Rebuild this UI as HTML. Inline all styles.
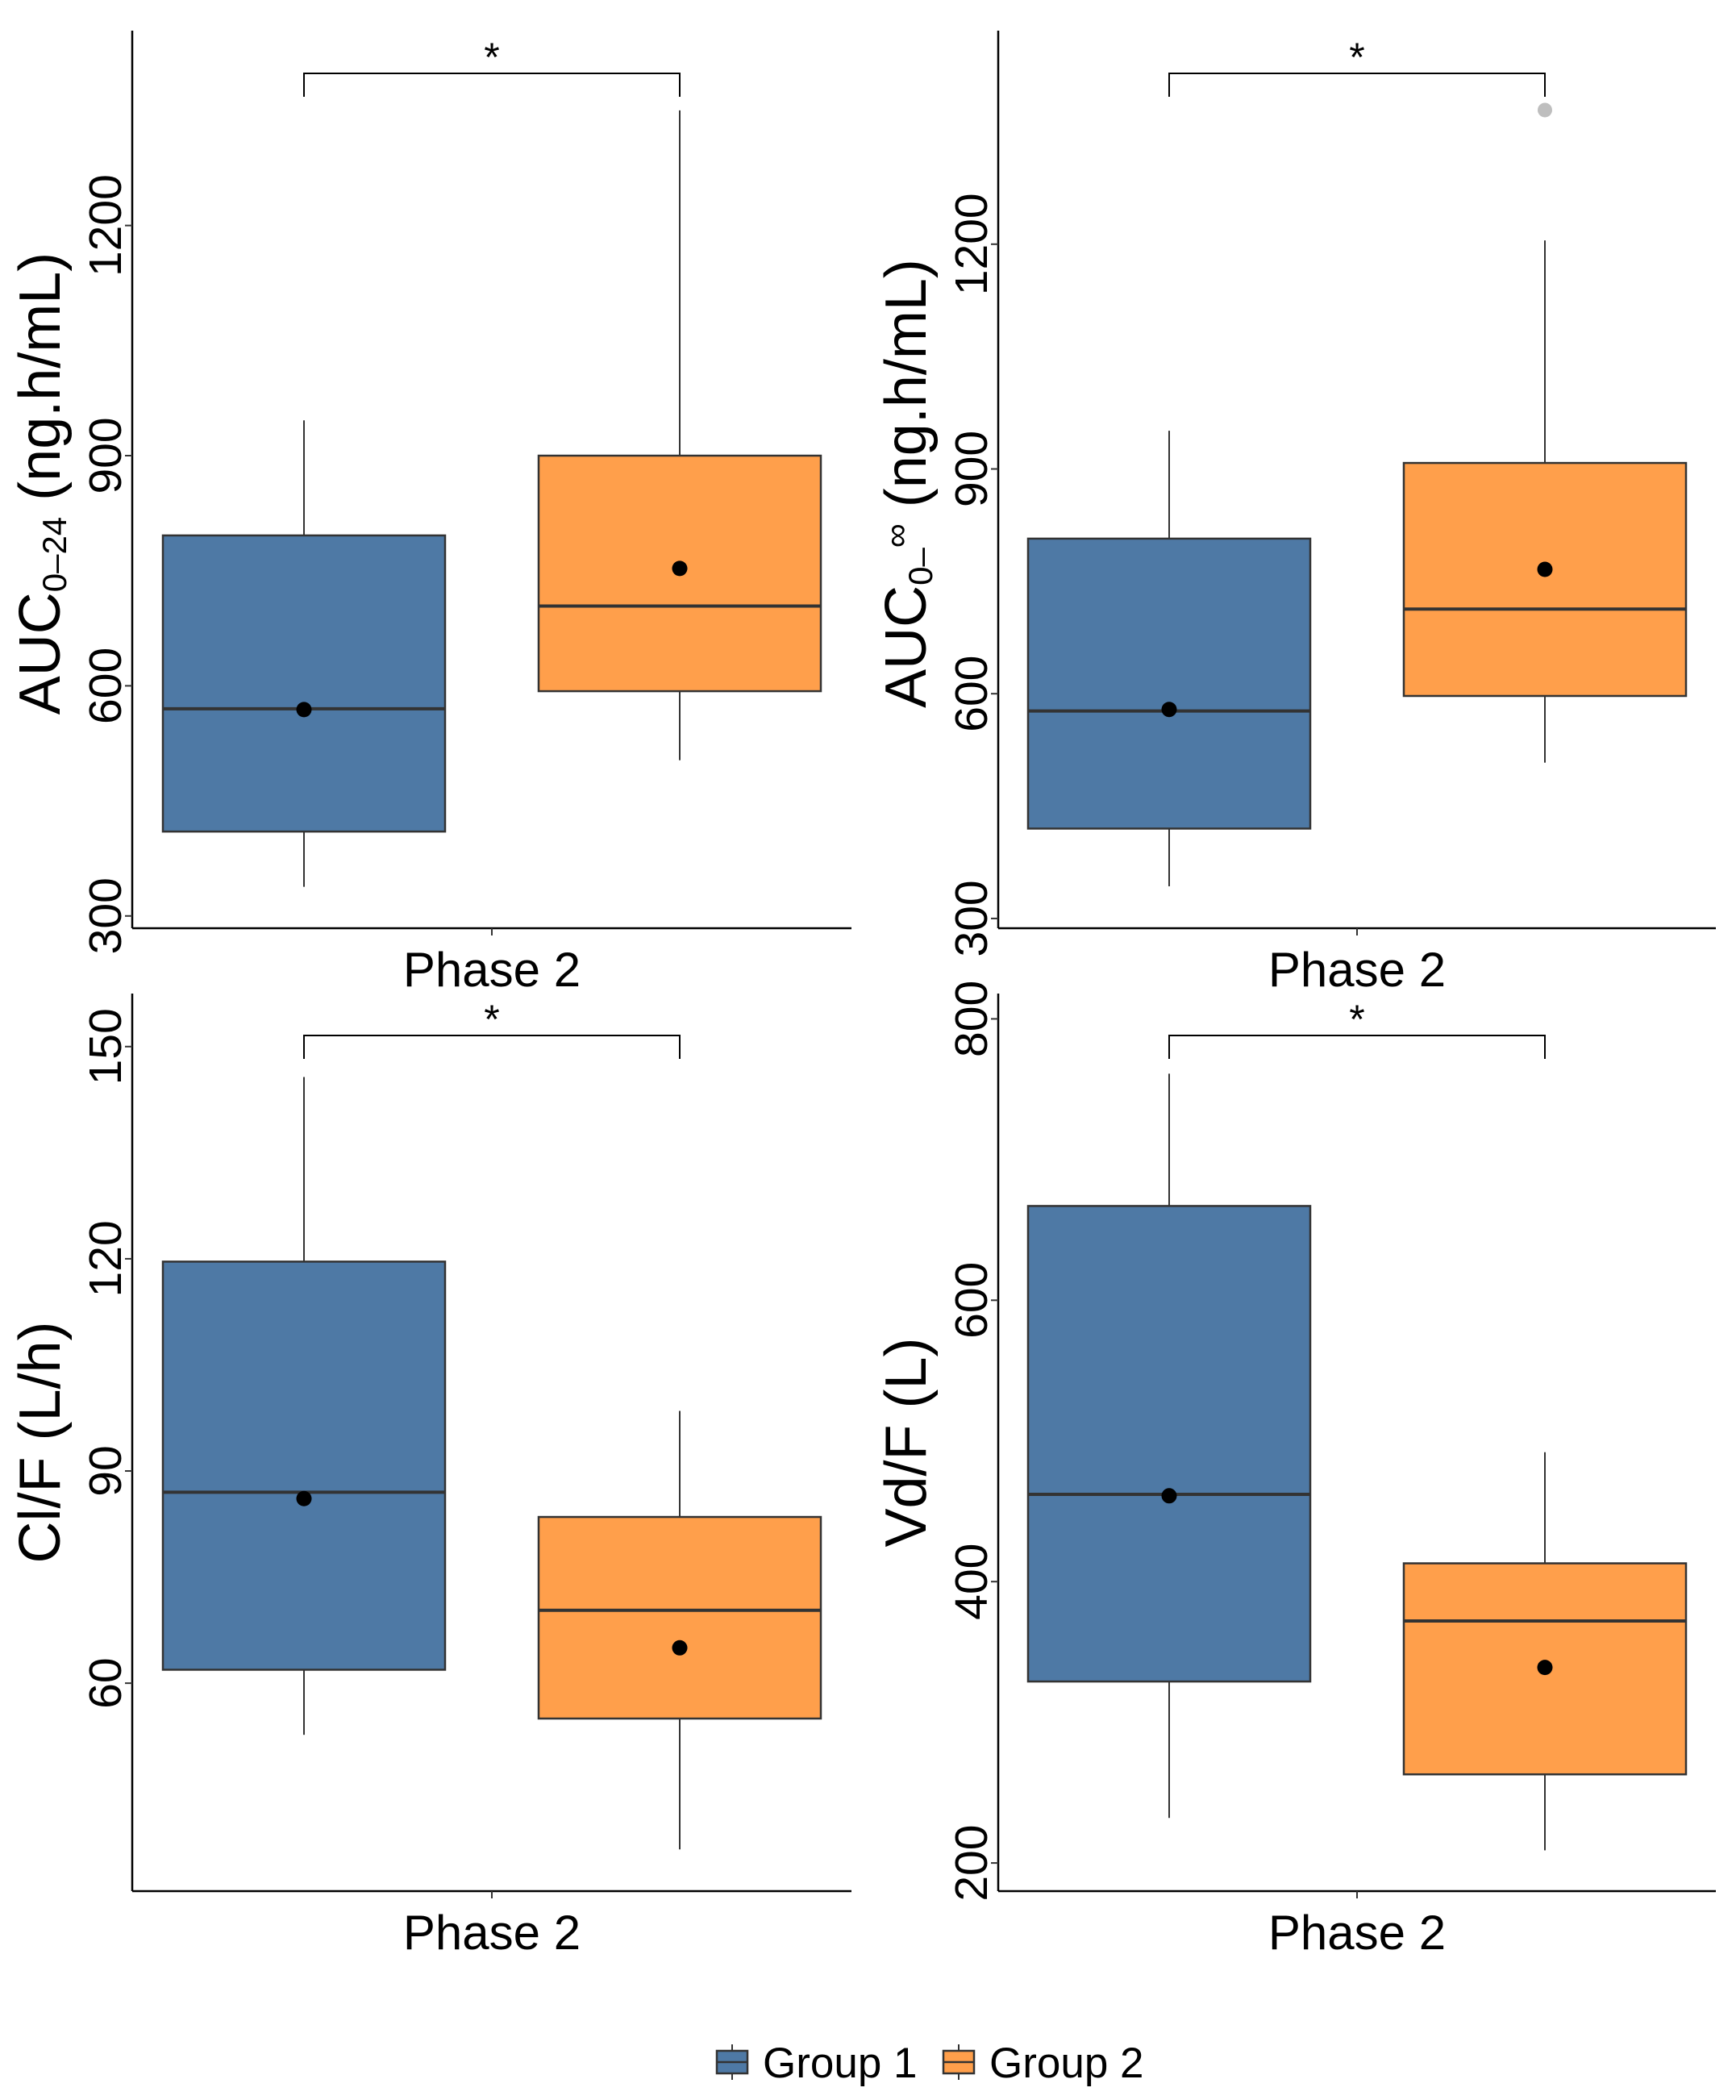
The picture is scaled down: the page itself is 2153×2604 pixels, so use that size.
<!DOCTYPE html>
<html><head><meta charset="utf-8">
<style>
html,body{margin:0;padding:0;background:#fff;}
svg{display:block;font-family:"Liberation Sans",Arial,sans-serif;}
</style></head>
<body>
<svg id="chart" width="2153" height="2604" viewBox="0 0 2153 2604" xmlns="http://www.w3.org/2000/svg">
<g id="legend">
  <g>
    <line x1="908" y1="2535" x2="908" y2="2579" stroke="#333" stroke-width="2"/>
    <rect x="889" y="2543" width="38" height="28" fill="#4E79A5" stroke="#333" stroke-width="2.5"/>
    <line x1="889" y1="2557" x2="927" y2="2557" stroke="#333" stroke-width="2.5"/>
    <text x="946" y="2576" font-size="53" fill="#000">Group 1</text>
  </g>
  <g>
    <line x1="1189" y1="2535" x2="1189" y2="2579" stroke="#333" stroke-width="2"/>
    <rect x="1170" y="2543" width="38" height="28" fill="#FF9F4B" stroke="#333" stroke-width="2.5"/>
    <line x1="1170" y1="2557" x2="1208" y2="2557" stroke="#333" stroke-width="2.5"/>
    <text x="1227" y="2576" font-size="53" fill="#000">Group 2</text>
  </g>
</g>
</svg>
<script>
// ---- data ----
const groups = ["Group 1", "Group 2"];
const category = "Phase 2";
const auc24Stats = [[338, 410, 570, 796, 946], [503, 593, 704, 900, 1350]];
const auc24Means = [569, 753];
const auc24Ticks = [300, 600, 900, 1200];
const aucInfStats = [[343, 420, 577, 807, 951], [508, 597, 713, 908, 1205]];
const aucInfMeans = [579, 766];
const aucInfOutliers = [[], [1379]];
const aucInfTicks = [300, 600, 900, 1200];
const clStats = [[52.7, 61.9, 87.0, 119.6, 145.7], [36.5, 55.0, 70.3, 83.5, 98.5]];
const clMeans = [86.1, 65.0];
const clTicks = [60, 90, 120, 150];
const vdStats = [[232, 329, 462, 667, 761], [209, 263, 372, 413, 492]];
const vdMeans = [461, 339];
const vdTicks = [200, 400, 600, 800];
const colors = ["#4E79A5", "#FF9F4B"];

const NS = "http://www.w3.org/2000/svg";
const svg = document.getElementById("chart");
function mk(tag, attrs, parent) {
  const e = document.createElementNS(NS, tag);
  for (const k in attrs) e.setAttribute(k, attrs[k]);
  (parent || svg).appendChild(e);
  return e;
}

function panel(cfg) {
  const g = mk("g", {});
  
  
  const {L, R, T, B, dmin, dmax} = cfg;
  const y = v => B - (v - dmin) / (dmax - dmin) * (B - T);
  const cx = (L + R) / 2;
  const centers = [cx - 233, cx + 233];
  const bw = 350;
  const ya = mk("line", {x1: L, y1: T, x2: L, y2: B, stroke: "#000", "stroke-width": 2.5}, g);
  
  
  const xa = mk("line", {x1: L, y1: B, x2: R, y2: B, stroke: "#000", "stroke-width": 2.5}, g);
  
  
  mk("line", {x1: cx, y1: B, x2: cx, y2: B + 9, stroke: "#333", "stroke-width": 2}, g);
  const xl = mk("text", {x: cx, y: B + 72, "font-size": 60, "text-anchor": "middle", fill: "#000"}, g);
  xl.textContent = category;
  
  
  cfg.ticks.forEach(t => {
    const ty = y(t);
    mk("line", {x1: L - 9, y1: ty, x2: L, y2: ty, stroke: "#333", "stroke-width": 2}, g);
    const tl = mk("text", {x: 0, y: 0, "font-size": 57, "text-anchor": "middle", fill: "#000",
      transform: `translate(${L - 14},${ty}) rotate(-90)`}, g);
    tl.textContent = t;
    
    
  });
  const yt = mk("text", {x: 0, y: 0, "font-size": 72, "text-anchor": "middle", fill: "#000",
    transform: `translate(${L - 90},${(T + B) / 2 + cfg.titleShift}) rotate(-90)`}, g);
  
  
  cfg.title.forEach(part => {
    const ts = mk("tspan", {}, yt);
    if (part.sub) { ts.setAttribute("font-size", 42); ts.setAttribute("dy", part.dy); }
    else if (part.dy) ts.setAttribute("dy", part.dy);
    ts.textContent = part.t;
  });
  cfg.stats.forEach((s, i) => {
    const bg = mk("g", {}, g);
    
    
    const c = centers[i];
    mk("line", {x1: c, y1: y(s[4]), x2: c, y2: y(s[3]), stroke: "#333", "stroke-width": 2}, bg);
    mk("line", {x1: c, y1: y(s[1]), x2: c, y2: y(s[0]), stroke: "#333", "stroke-width": 2}, bg);
    mk("rect", {x: c - bw / 2, y: y(s[3]), width: bw, height: y(s[1]) - y(s[3]), fill: colors[i], stroke: "#333", "stroke-width": 2.5}, bg);
    mk("line", {x1: c - bw / 2, y1: y(s[2]), x2: c + bw / 2, y2: y(s[2]), stroke: "#333", "stroke-width": 4}, bg);
    const m = mk("circle", {cx: c, cy: y(cfg.means[i]), r: 9.5, fill: "#000"}, bg);
    
    
    (cfg.outliers ? cfg.outliers[i] : []).forEach(o => {
      const oc = mk("circle", {cx: c, cy: y(o), r: 9, fill: "#BEBEBE"}, bg);
      
      
    });
  });
  const br = mk("path", {d: `M${centers[0]},${cfg.brE} V${cfg.brY} H${centers[1]} V${cfg.brE}`, fill: "none", stroke: "#000", "stroke-width": 2}, g);
  
  
  const st = mk("text", {x: cx, y: cfg.brY - 3, "font-size": 50, "text-anchor": "middle", fill: "#000"}, g);
  st.textContent = "*";
  
  
}

panel({name: "panel-auc-0-24", L: 164, R: 1056, T: 38, B: 1151, dmin: 284, dmax: 1454,
  ticks: auc24Ticks, stats: auc24Stats, means: auc24Means, brY: 91, brE: 120, titleShift: 5,
  title: [{t: "AUC"}, {t: "0–24", sub: true, dy: 8}, {t: " (ng.h/mL)", dy: -8}]});
panel({name: "panel-auc-0-inf", L: 1238, R: 2128, T: 38, B: 1151, dmin: 287, dmax: 1485,
  ticks: aucInfTicks, stats: aucInfStats, means: aucInfMeans, outliers: aucInfOutliers, brY: 91, brE: 120, titleShift: 5,
  title: [{t: "AUC"}, {t: "0–", sub: true, dy: 8}, {t: "∞", sub: true, dy: -30}, {t: " (ng.h/mL)", dy: 22}]});
panel({name: "panel-cl-f", L: 164, R: 1056, T: 1232, B: 2345, dmin: 30.6, dmax: 157.5,
  ticks: clTicks, stats: clStats, means: clMeans, brY: 1284, brE: 1313, titleShift: 0,
  title: [{t: "Cl/F (L/h)"}]});
panel({name: "panel-vd-f", L: 1238, R: 2128, T: 1232, B: 2345, dmin: 180, dmax: 818,
  ticks: vdTicks, stats: vdStats, means: vdMeans, brY: 1284, brE: 1313, titleShift: 0,
  title: [{t: "Vd/F (L)"}]});
</script>
</body></html>
